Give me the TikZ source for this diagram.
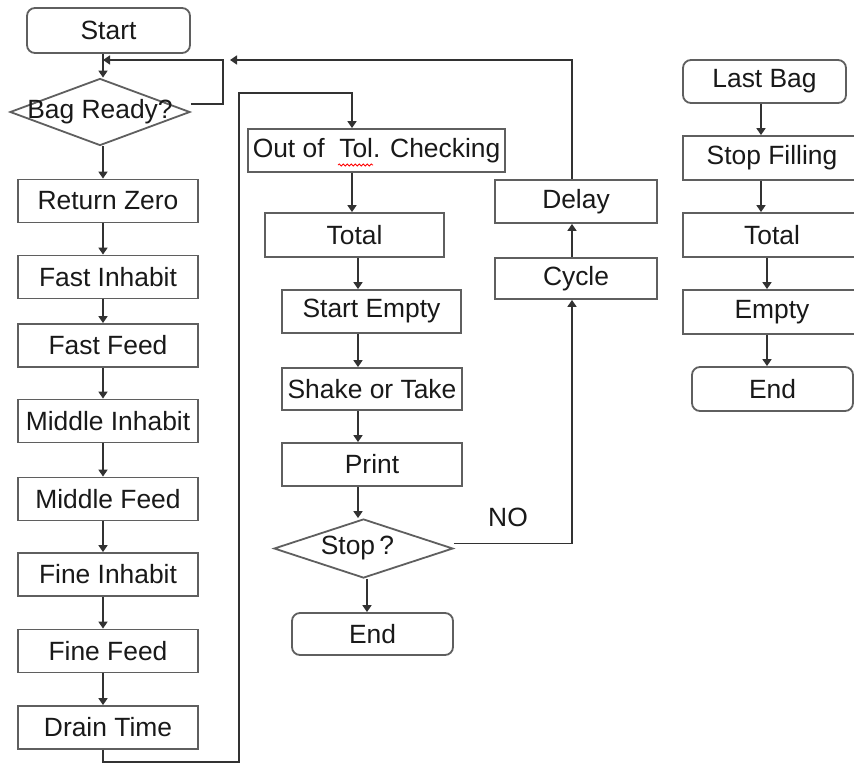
\documentclass[tikz,border=0pt]{standalone}
\usepackage{fontspec}
\setmainfont{Liberation Sans}
\usetikzlibrary{arrows.meta,shapes.geometric,decorations.pathmorphing}
\definecolor{boxc}{RGB}{95,95,95}
\definecolor{linec}{RGB}{50,50,50}
\definecolor{txtc}{RGB}{25,25,25}
\begin{document}
\begin{tikzpicture}[x=1pt,y=-1pt,
  box/.style={draw=boxc, line width=1.8pt, minimum width=180pt, minimum height=43pt,
    inner sep=0pt, text=txtc, font=\fontsize{26.4}{30}\selectfont},
  rbox/.style={box, rounded corners=8pt},
  dia/.style={draw=boxc, line width=1.8pt, diamond, inner sep=0pt, text=txtc,
    font=\fontsize{26.4}{30}\selectfont},
  conn/.style={draw=linec, line width=1.6pt},
  arr/.style={conn, -{Triangle[width=9pt,length=7pt]}},
  lbl/.style={text=txtc, font=\fontsize{26.4}{30}\selectfont, inner sep=0pt}
]
\useasboundingbox (0,0) rectangle (854,764);
\clip (0,0) rectangle (854,764);
\fill[white] (0,0) rectangle (854,764);

% helper columns
\coordinate (xl) at (103,0);
\coordinate (xo) at (352,0);
\coordinate (xm) at (358,0);
\coordinate (xs) at (367,0);
\coordinate (xd) at (572,0);
\coordinate (xr1) at (761,0);
\coordinate (xr2) at (767,0);

% left column
\node[rbox, minimum width=163pt, minimum height=45pt] (start) at (108.5,30.5) {Start};
\node[dia, minimum width=180pt, minimum height=67pt] (bag) at (100,112) {\makebox[0pt]{Bag Ready?}};
\node[box] (rz) at (108,201) {Return Zero};
\node[box] (fi) at (108,277) {Fast Inhabit};
\node[box] (ff) at (108,345.5) {Fast Feed};
\node[box] (mi) at (108,421) {Middle Inhabit};
\node[box] (mf) at (108,499) {Middle Feed};
\node[box] (fin) at (108,574.5) {Fine Inhabit};
\node[box] (ffd) at (108,651) {Fine Feed};
\node[box] (dt) at (108,727.5) {Drain Time};

% middle column
\node[box, minimum width=257pt] (oot) at (376.5,150.5) {Out of\ \ Tol. Checking};
\node[box, minimum width=179pt, minimum height=44pt] (tot) at (354.5,235) {Total};
\node[box, minimum width=179pt] (se) at (371.5,311.5) {Start Empty};
\node[box, minimum height=42pt] (sot) at (372,389) {Shake or Take};
\node[box] (pr) at (372,464.5) {Print};
\node[dia, minimum width=179pt, minimum height=59pt] (stop) at (363.5,548.5) {\makebox[0pt]{\hspace*{-12pt}Stop\,?}};
\node[rbox, minimum width=161pt, minimum height=42pt] (end) at (372.5,634) {End};

\node[box, minimum width=162pt] (delay) at (576,201.5) {Delay};
\node[box, minimum width=162pt, minimum height=41pt] (cyc) at (576,278.5) {Cycle};
\node[lbl] (no) at (508,517) {NO};

% right column
\node[rbox, minimum width=163pt] (lb) at (764.5,81.5) {Last Bag};
\node[box, minimum width=178pt, minimum height=44pt] (sf) at (772,158) {Stop Filling};
\node[box, minimum width=178pt, minimum height=44pt] (tot2) at (772,235) {Total};
\node[box, minimum width=178pt, minimum height=44pt] (emp) at (772,312) {Empty};
\node[rbox, minimum width=161pt, minimum height=44pt] (end2) at (772.5,389) {End};

% spell-check underline
\draw[red, line width=0.8pt, decorate, decoration={snake, amplitude=1pt, segment length=4pt}]
  (338,165) -- (373,165);

% loop junction points
\coordinate (lp) at (223,60);
\coordinate (jn) at (103,60);
\coordinate (dj) at (230,60);
\coordinate (d1) at (103,762);
\coordinate (d2) at (239,93);

% left column connectors
\draw[arr] (start.south -| xl) -- (bag.north -| xl);
\draw[arr] (bag.south -| xl) -- (rz.north -| xl);
\draw[arr] (rz.south -| xl) -- (fi.north -| xl);
\draw[arr] (fi.south -| xl) -- (ff.north -| xl);
\draw[arr] (ff.south -| xl) -- (mi.north -| xl);
\draw[arr] (mi.south -| xl) -- (mf.north -| xl);
\draw[arr] (mf.south -| xl) -- (fin.north -| xl);
\draw[arr] (fin.south -| xl) -- (ffd.north -| xl);
\draw[arr] (ffd.south -| xl) -- (dt.north -| xl);

% loops
\draw[arr] ([yshift=8pt]bag.east) -| (lp) -- (jn);
\draw[arr] (delay.north -| xd) |- (dj);
\draw[arr] (dt.south -| xl) -- (d1) -| (d2) -| (oot.north -| xo);

% middle connectors
\draw[arr] (oot.south -| xo) -- (tot.north -| xo);
\draw[arr] (tot.south -| xm) -- (se.north -| xm);
\draw[arr] (se.south -| xm) -- (sot.north -| xm);
\draw[arr] (sot.south -| xm) -- (pr.north -| xm);
\draw[arr] (pr.south -| xm) -- (stop.north -| xm);
\draw[arr] (stop.south -| xs) -- (end.north -| xs);
\draw[arr] ([yshift=5pt]stop.east) -| (cyc.south -| xd);
\draw[arr] (cyc.north -| xd) -- (delay.south -| xd);

% right connectors
\draw[arr] (lb.south -| xr1) -- (sf.north -| xr1);
\draw[arr] (sf.south -| xr1) -- (tot2.north -| xr1);
\draw[arr] (tot2.south -| xr2) -- (emp.north -| xr2);
\draw[arr] (emp.south -| xr2) -- (end2.north -| xr2);
\end{tikzpicture}
\end{document}
